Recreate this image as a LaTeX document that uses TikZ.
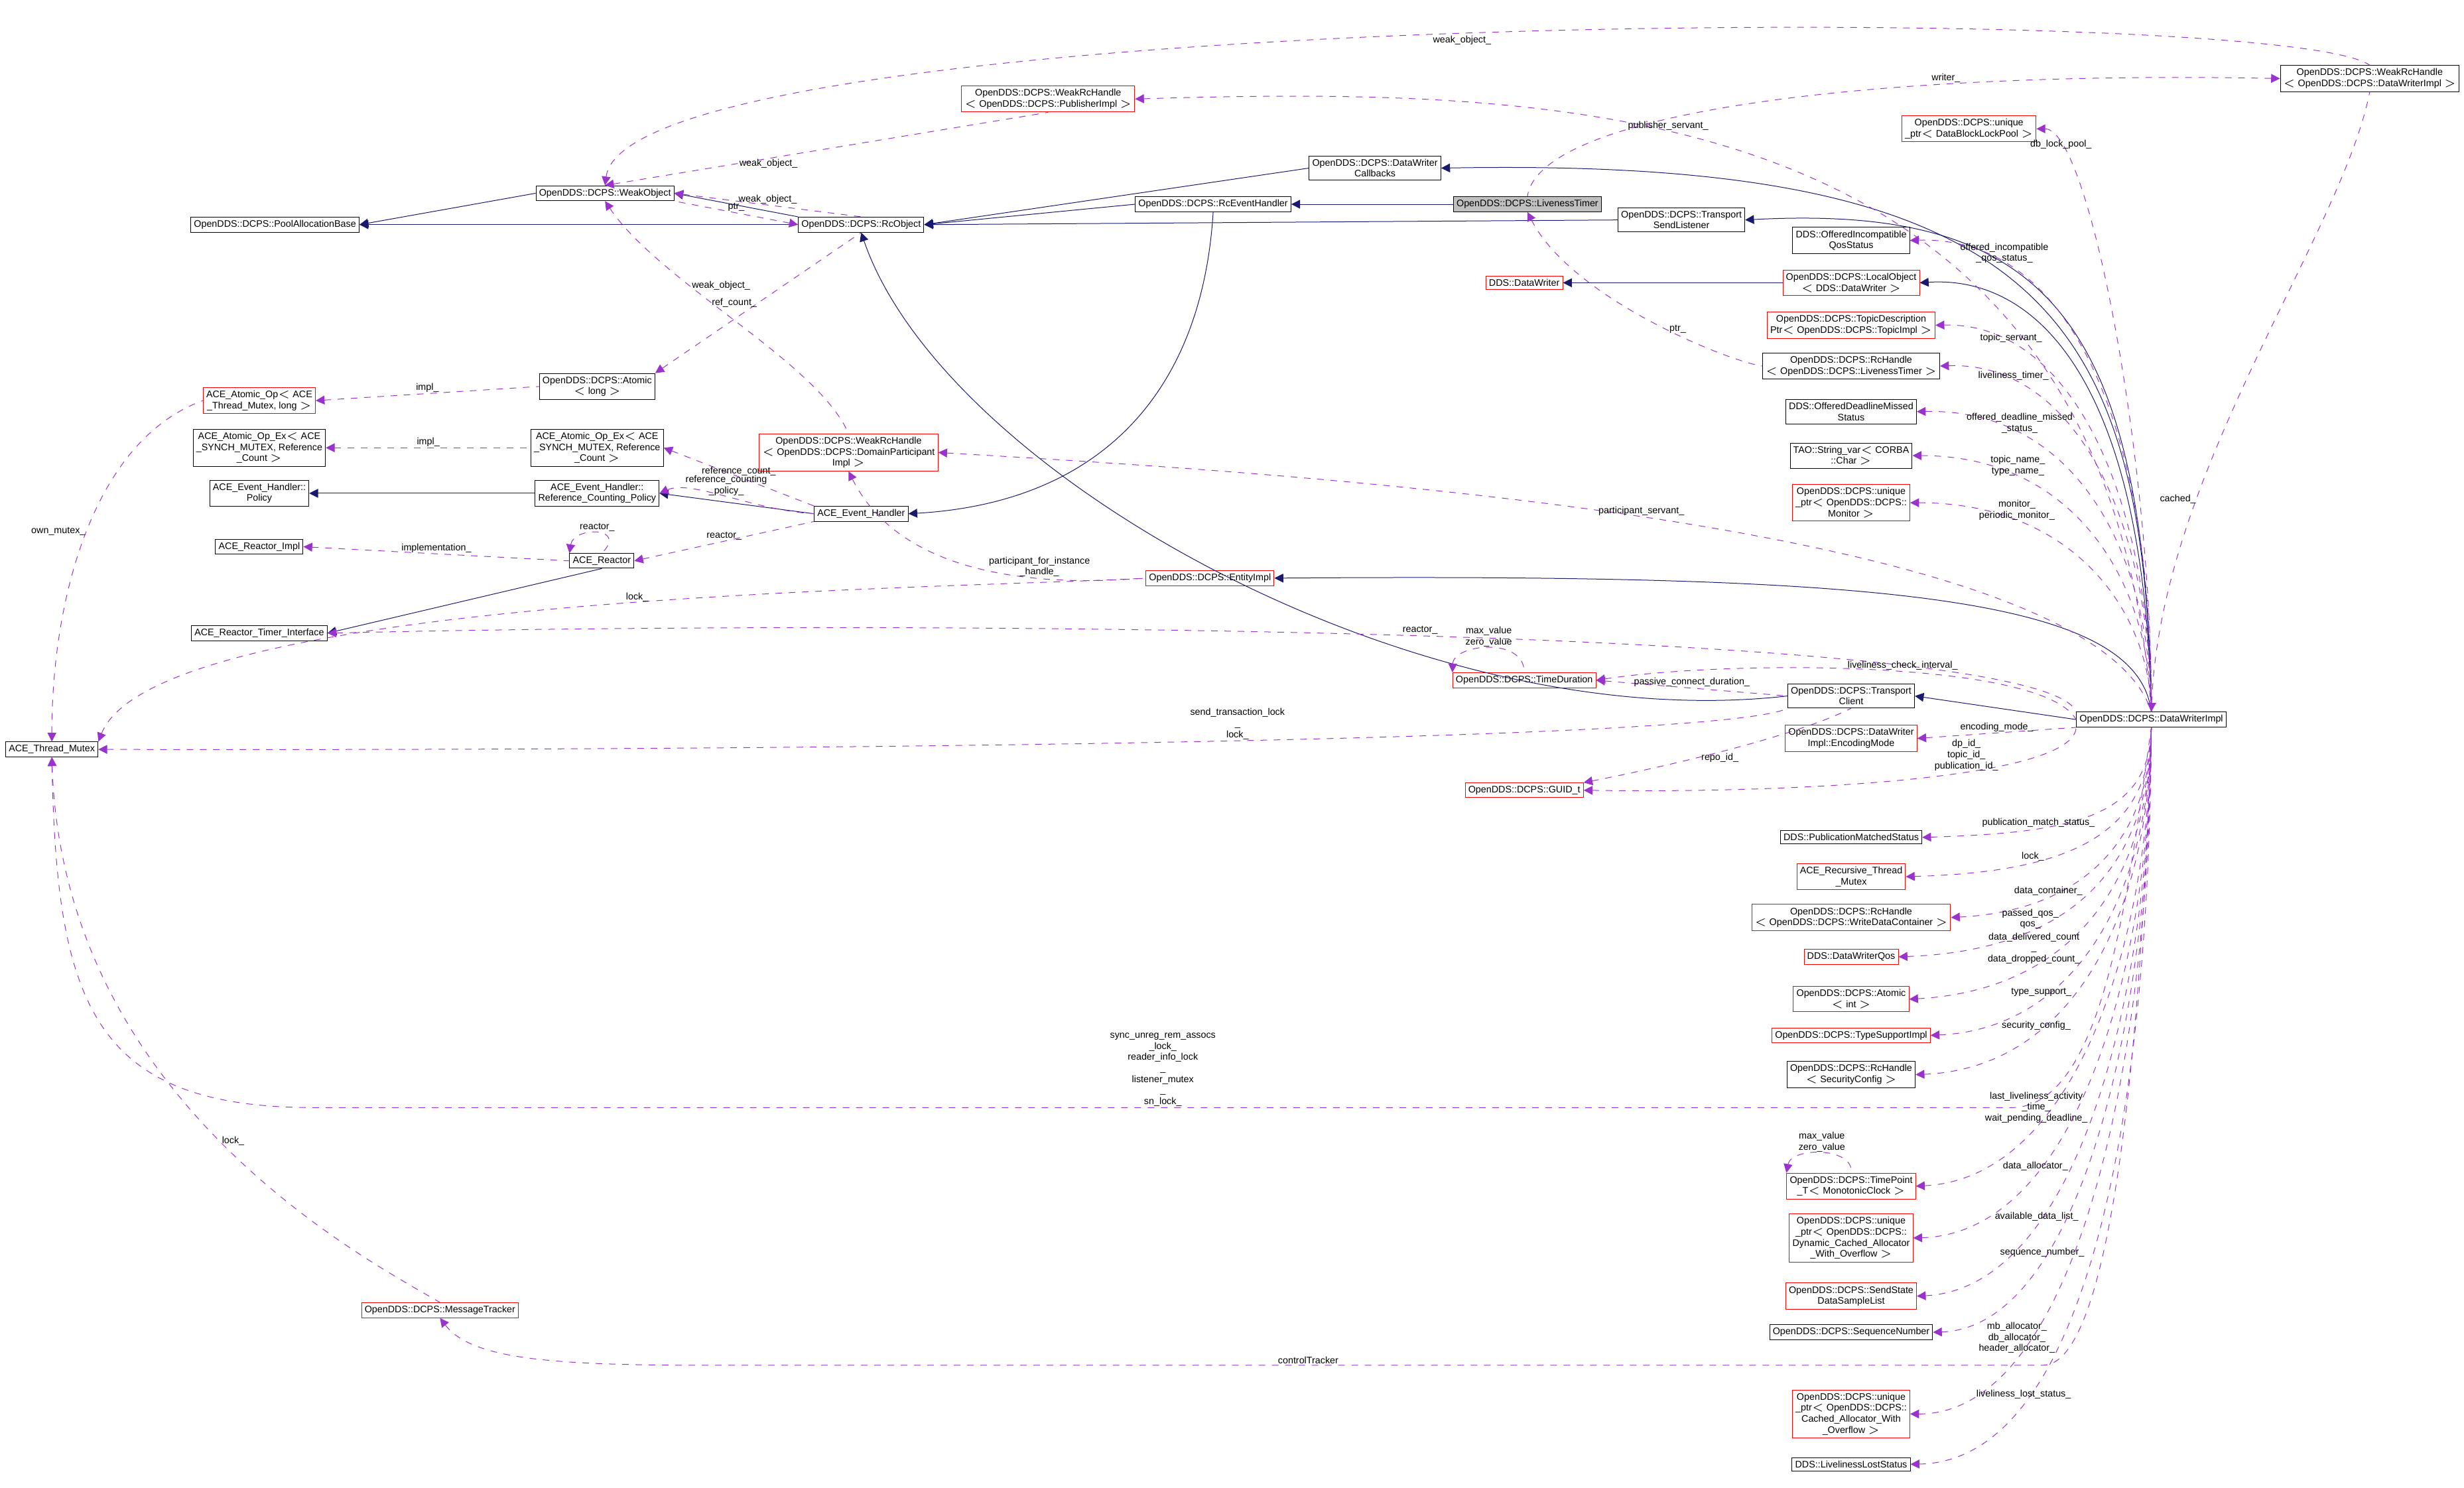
\documentclass[tikz,border=0pt]{standalone}
\usepackage{fontspec}
\setmainfont{Liberation Sans}
\usetikzlibrary{arrows.meta,positioning,calc}
\definecolor{inh}{HTML}{191970}
\definecolor{use}{HTML}{9A32CD}

\begin{document}
\begin{tikzpicture}[x=0.025cm,y=-0.025cm,line width=0.3pt,
    box/.style={draw=black,fill=white,inner sep=1.4pt,align=center,font=\fontsize{4.3}{5}\selectfont},
    rbox/.style={box,draw=red},
    base/.style={draw=inh,{Triangle[fill=inh,length=4pt,width=4pt]}-},
    mem/.style={draw=use,dashed,{Triangle[fill=use,length=4pt,width=4pt]}-},
    lbl/.style={font=\fontsize{4.3}{5}\selectfont,align=center,inner sep=0.5pt}]
    \useasboundingbox (0,0) rectangle (1568,947);
    % left part
    \node[box] (pab) at (175,143) {OpenDDS::DCPS::PoolAllocationBase};
    \node[box] (wo) at (385,123) {OpenDDS::DCPS::WeakObject};
    \node[box] (ro) at (548,143) {OpenDDS::DCPS::RcObject};
    \node[rbox] (wrpi) at (667,63) {OpenDDS::DCPS::WeakRcHandle\\$<$ OpenDDS::DCPS::PublisherImpl $>$};
    \node[box] (dwc) at (875,107) {OpenDDS::DCPS::DataWriter\\Callbacks};
    \node[box] (reh) at (772,130) {OpenDDS::DCPS::RcEventHandler};
    \node[box,fill=black!25] (lt) at (972,130) {OpenDDS::DCPS::LivenessTimer};
    \node[box] (tsl) at (1070,140) {OpenDDS::DCPS::Transport\\SendListener};
    \node[box] (wrdw) at (1508,50) {OpenDDS::DCPS::WeakRcHandle\\$<$ OpenDDS::DCPS::DataWriterImpl $>$};
    \node[box] (atomic) at (380,246) {OpenDDS::DCPS::Atomic\\$<$ long $>$};
    \node[rbox] (aao) at (165,255) {ACE\_Atomic\_Op$<$ ACE\\\_Thread\_Mutex, long $>$};
    \node[box] (ex) at (165,285) {ACE\_Atomic\_Op\_Ex$<$ ACE\\\_SYNCH\_MUTEX, Reference\\\_Count $>$};
    \node[box] (ex2) at (380,285) {ACE\_Atomic\_Op\_Ex$<$ ACE\\\_SYNCH\_MUTEX, Reference\\\_Count $>$};
    \node[box] (pol) at (165,314) {ACE\_Event\_Handler::\\Policy};
    \node[box] (rcp) at (380,314) {ACE\_Event\_Handler::\\Reference\_Counting\_Policy};
    \node[box] (aeh) at (548,327) {ACE\_Event\_Handler};
    \node[rbox] (wrdp) at (540,288) {OpenDDS::DCPS::WeakRcHandle\\$<$ OpenDDS::DCPS::DomainParticipant\\Impl $>$};
    \node[box] (rimpl) at (165,348) {ACE\_Reactor\_Impl};
    \node[box] (reactor) at (383,357) {ACE\_Reactor};
    \node[rbox] (ei) at (770,368) {OpenDDS::DCPS::EntityImpl};
    \node[box] (arti) at (165,403) {ACE\_Reactor\_Timer\_Interface};
    \node[rbox] (td) at (970,433) {OpenDDS::DCPS::TimeDuration};
    \node[box] (tc) at (1178,443) {OpenDDS::DCPS::Transport\\Client};
    \node[box] (dwi) at (1369,458) {OpenDDS::DCPS::DataWriterImpl};
    \node[box] (atm) at (33,477) {ACE\_Thread\_Mutex};
    \node[rbox] (guid) at (970,503) {OpenDDS::DCPS::GUID\_t};
    \node[rbox] (mt) at (280,834) {OpenDDS::DCPS::MessageTracker};
    \node[rbox] (ddw) at (970,180) {DDS::DataWriter};
    % right column
    \node[rbox] (dblp) at (1253,82) {OpenDDS::DCPS::unique\\\_ptr$<$ DataBlockLockPool $>$};
    \node[box] (oiqs) at (1178,153) {DDS::OfferedIncompatible\\QosStatus};
    \node[rbox] (lo) at (1178,180) {OpenDDS::DCPS::LocalObject\\$<$ DDS::DataWriter $>$};
    \node[rbox] (tdp) at (1178,207) {OpenDDS::DCPS::TopicDescription\\Ptr$<$ OpenDDS::DCPS::TopicImpl $>$};
    \node[box] (rhlt) at (1178,233) {OpenDDS::DCPS::RcHandle\\$<$ OpenDDS::DCPS::LivenessTimer $>$};
    \node[box] (odms) at (1178,262) {DDS::OfferedDeadlineMissed\\Status};
    \node[box] (sv) at (1178,290) {TAO::String\_var$<$ CORBA\\::Char $>$};
    \node[rbox] (mon) at (1178,320) {OpenDDS::DCPS::unique\\\_ptr$<$ OpenDDS::DCPS::\\Monitor $>$};
    \node[rbox] (em) at (1178,470) {OpenDDS::DCPS::DataWriter\\Impl::EncodingMode};
    \node[box] (pms) at (1178,533) {DDS::PublicationMatchedStatus};
    \node[rbox] (rtm) at (1178,558) {ACE\_Recursive\_Thread\\\_Mutex};
    \node[rbox] (wdc) at (1178,584) {OpenDDS::DCPS::RcHandle\\$<$ OpenDDS::DCPS::WriteDataContainer $>$};
    \node[rbox] (qos) at (1178,609) {DDS::DataWriterQos};
    \node[rbox] (aint) at (1178,636) {OpenDDS::DCPS::Atomic\\$<$ int $>$};
    \node[rbox] (tsi) at (1178,659) {OpenDDS::DCPS::TypeSupportImpl};
    \node[box] (sc) at (1178,684) {OpenDDS::DCPS::RcHandle\\$<$ SecurityConfig $>$};
    \node[rbox] (tp) at (1178,755) {OpenDDS::DCPS::TimePoint\\\_T$<$ MonotonicClock $>$};
    \node[rbox] (dca) at (1178,788) {OpenDDS::DCPS::unique\\\_ptr$<$ OpenDDS::DCPS::\\Dynamic\_Cached\_Allocator\\\_With\_Overflow $>$};
    \node[rbox] (ssl) at (1178,825) {OpenDDS::DCPS::SendState\\DataSampleList};
    \node[box] (sn) at (1178,848) {OpenDDS::DCPS::SequenceNumber};
    \node[rbox] (cao) at (1178,900) {OpenDDS::DCPS::unique\\\_ptr$<$ OpenDDS::DCPS::\\Cached\_Allocator\_With\\\_Overflow $>$};
    \node[box] (lls) at (1178,932) {DDS::LivelinessLostStatus};

    % inheritance
    \draw[base] (pab.east) -- (wo.west);
    \draw[base] (pab.east) -- (ro.west);
    \draw[base] (wo.east) -- (ro.north west);
    \draw[base] (ro.east) -- (dwc.west);
    \draw[base] (ro.east) -- (reh.west);
    \draw[base] (ro.east) -- (tsl.west);
    \draw[base] (reh.east) -- (lt.west);
    \draw[base] (ro.south) .. controls (600,300) and (900,470) .. (tc.west);
    \draw[base] (aeh.east) .. controls (700,320) and (765,250) .. (reh.south);
    \draw[base] (rcp.east) -- (aeh.west);
    \draw[base] (pol.east) -- (rcp.west);
    \draw[base] (arti.east) -- (reactor.south);
    \draw[base] (ddw.east) -- (lo.west);
    \draw[base] (dwc.east) .. controls (1300,100) and (1365,200) .. (dwi.north);
    \draw[base] (tsl.east) .. controls (1300,130) and (1365,200) .. (dwi.north);
    \draw[base] (lo.east) .. controls (1300,175) and (1365,250) .. (dwi.north);
    \draw[base] (ei.east) .. controls (1200,365) and (1360,380) .. (dwi.north);
    \draw[base] (tc.east) -- (dwi.west);

    % members
    \draw[mem] (wo.north) .. controls (400,5) and (1450,0) .. node[lbl,pos=0.5,below]{weak\_object\_} (wrdw.north);
    \draw[mem] (wo.north) -- node[lbl,pos=0.3,right]{weak\_object\_} (wrpi.south);
    \draw[mem] (wo.east) -- node[lbl,pos=0.5,above]{weak\_object\_} (ro.north);
    \draw[mem] (ro.west) -- node[lbl,pos=0.5,above]{ptr\_} (wo.south east);
    \draw[mem] (wo.south) .. controls (420,180) and (520,230) .. node[lbl,pos=0.35,right]{weak\_object\_} (wrdp.north);
    \draw[mem] (atomic.north east) -- node[lbl,pos=0.5,left]{ref\_count\_} (ro.south);
    \draw[mem] (aao.east) -- node[lbl,pos=0.5,above]{impl\_} (atomic.west);
    \draw[mem] (ex.east) -- node[lbl,pos=0.5,above]{impl\_} (ex2.west);
    \draw[mem] (ex2.east) -- node[lbl,pos=0.5,above]{reference\_count\_} (aeh.north west);
    \draw[mem] (rcp.east) .. controls (440,305) and (480,325) .. node[lbl,pos=0.5,above]{reference\_counting\\\_policy\_} (aeh.west);
    \draw[mem] (reactor.east) -- node[lbl,pos=0.5,above]{reactor\_} (aeh.south west);
    \draw[mem] (reactor.north west) .. controls (365,335) and (400,335) .. node[lbl,pos=0.5,above]{reactor\_} (reactor.north);
    \draw[mem] (rimpl.east) -- node[lbl,pos=0.5,above]{implementation\_} (reactor.west);
    \draw[mem] (atm.north) .. controls (33,380) and (60,280) .. node[lbl,pos=0.5,left]{own\_mutex\_} (aao.west);
    \draw[mem] (atm.north east) .. controls (100,378) and (600,375) .. node[lbl,pos=0.55,above]{lock\_} (ei.west);
    \draw[mem] (atm.east) .. controls (600,478) and (1100,470) .. node[lbl,pos=0.5,above]{send\_transaction\_lock\\\_\\lock\_} (tc.south west);
    \draw[mem] (atm.south) .. controls (36,640) and (60,705) .. (200,705) -- node[lbl,pos=0.5,above]{sync\_unreg\_rem\_assocs\\\_lock\_\\reader\_info\_lock\\\_\\listener\_mutex\\\_\\sn\_lock\_} (1280,705) .. controls (1340,705) and (1355,560) .. (dwi.south);
    \draw[mem] (atm.south) .. controls (40,700) and (230,800) .. node[lbl,pos=0.5,right]{lock\_} (mt.north);
    \draw[mem] (arti.east) .. controls (600,394) and (1300,400) .. node[lbl,pos=0.5,above]{reactor\_} (dwi.north west);
    \draw[mem] (wrdp.south) .. controls (580,380) and (700,370) .. node[lbl,pos=0.6,above]{participant\_for\_instance\\\_handle\_} (ei.west);
    \draw[mem] (wrdp.east) .. controls (800,300) and (1330,330) .. node[lbl,pos=0.5,above]{participant\_servant\_} (dwi.north);
    \draw[mem] (wrpi.east) .. controls (1000,55) and (1340,60) .. node[lbl,pos=0.4,above]{publisher\_servant\_} (dwi.north);
    \draw[mem] (wrdw.west) .. controls (1200,45) and (980,70) .. node[lbl,pos=0.3,above]{writer\_} (lt.north);
    \draw[mem] (dwi.north) .. controls (1375,300) and (1490,150) .. node[lbl,pos=0.3,left]{cached\_} (wrdw.south);
    \draw[mem] (lt.south) .. controls (1000,190) and (1100,230) .. node[lbl,pos=0.6,above]{ptr\_} (rhlt.west);
    \draw[mem] (td.north west) .. controls (925,410) and (970,405) .. node[lbl,pos=0.5,above]{max\_value\\zero\_value} (td.north);
    \draw[mem] (td.east) -- node[lbl,pos=0.5,above]{passive\_connect\_duration\_} (tc.west);
    \draw[mem] (td.east) .. controls (1100,420) and (1300,420) .. node[lbl,pos=0.55,above]{liveliness\_check\_interval\_} (dwi.west);
    \draw[mem] (guid.north east) .. controls (1050,490) and (1140,470) .. node[lbl,pos=0.5,below]{repo\_id\_} (tc.south);
    \draw[mem] (guid.east) .. controls (1150,505) and (1320,495) .. node[lbl,pos=0.6,above]{dp\_id\_\\topic\_id\_\\publication\_id\_} (dwi.south west);
    \draw[mem] (mt.south) .. controls (300,865) and (350,869) .. (450,869) -- node[lbl,pos=0.45,above]{controlTracker} (1300,869) .. controls (1350,869) and (1365,600) .. (dwi.south);
    \draw[mem] (tp.north west) .. controls (1140,730) and (1180,730) .. node[lbl,pos=0.5,above]{max\_value\\zero\_value} (tp.north);

    \draw[mem] (dblp.east) .. controls (1330,82) and (1370,300) .. node[lbl,pos=0.15,above]{db\_lock\_pool\_} (dwi.north);
    \draw[mem] (oiqs.east) .. controls (1330,150) and (1370,300) .. node[lbl,pos=0.2,above]{offered\_incompatible\\\_qos\_status\_} (dwi.north);
    \draw[mem] (tdp.east) .. controls (1320,205) and (1368,320) .. node[lbl,pos=0.2,above]{topic\_servant\_} (dwi.north);
    \draw[mem] (rhlt.east) .. controls (1320,230) and (1368,330) .. node[lbl,pos=0.2,above]{liveliness\_timer\_} (dwi.north);
    \draw[mem] (odms.east) .. controls (1320,260) and (1368,350) .. node[lbl,pos=0.25,above]{offered\_deadline\_missed\\\_status\_} (dwi.north);
    \draw[mem] (sv.east) .. controls (1320,290) and (1368,370) .. node[lbl,pos=0.25,above]{topic\_name\_\\type\_name\_} (dwi.north);
    \draw[mem] (mon.east) .. controls (1320,320) and (1368,390) .. node[lbl,pos=0.25,above]{monitor\_\\periodic\_monitor\_} (dwi.north);
    \draw[mem] (em.east) -- node[lbl,pos=0.5,above]{encoding\_mode\_} (dwi.south west);
    \draw[mem] (pms.east) .. controls (1320,530) and (1368,520) .. node[lbl,pos=0.3,above]{publication\_match\_status\_} (dwi.south);
    \draw[mem] (rtm.east) .. controls (1320,555) and (1368,530) .. node[lbl,pos=0.3,above]{lock\_} (dwi.south);
    \draw[mem] (wdc.east) .. controls (1320,580) and (1368,540) .. node[lbl,pos=0.3,above]{data\_container\_} (dwi.south);
    \draw[mem] (qos.east) .. controls (1320,605) and (1368,550) .. node[lbl,pos=0.3,above]{passed\_qos\_\\qos\_} (dwi.south);
    \draw[mem] (aint.east) .. controls (1320,630) and (1368,560) .. node[lbl,pos=0.3,above]{data\_delivered\_count\\\_\\data\_dropped\_count\_} (dwi.south);
    \draw[mem] (tsi.east) .. controls (1320,655) and (1368,570) .. node[lbl,pos=0.3,above]{type\_support\_} (dwi.south);
    \draw[mem] (sc.east) .. controls (1320,680) and (1368,580) .. node[lbl,pos=0.3,above]{security\_config\_} (dwi.south);
    \draw[mem] (tp.east) .. controls (1320,750) and (1368,600) .. node[lbl,pos=0.3,above]{last\_liveliness\_activity\\\_time\_\\wait\_pending\_deadline\_} (dwi.south);
    \draw[mem] (dca.east) .. controls (1320,785) and (1368,620) .. node[lbl,pos=0.3,above]{data\_allocator\_} (dwi.south);
    \draw[mem] (ssl.east) .. controls (1320,820) and (1368,640) .. node[lbl,pos=0.3,above]{available\_data\_list\_} (dwi.south);
    \draw[mem] (sn.east) .. controls (1320,845) and (1368,660) .. node[lbl,pos=0.3,above]{sequence\_number\_} (dwi.south);
    \draw[mem] (cao.east) .. controls (1320,900) and (1368,680) .. node[lbl,pos=0.25,above]{mb\_allocator\_\\db\_allocator\_\\header\_allocator\_} (dwi.south);
    \draw[mem] (lls.east) .. controls (1330,930) and (1368,700) .. node[lbl,pos=0.25,above]{liveliness\_lost\_status\_} (dwi.south);
\end{tikzpicture}
\end{document}
